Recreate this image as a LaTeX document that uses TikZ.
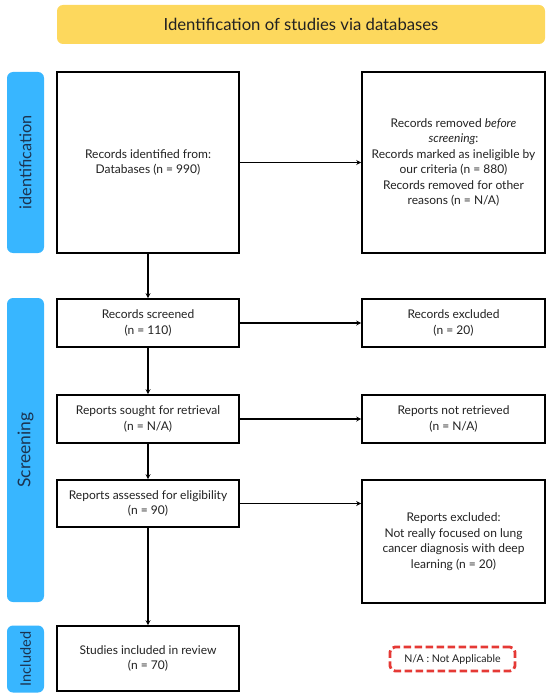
\documentclass[tikz,border=0pt]{standalone}
\usepackage{fontspec}
\setmainfont{Lato}
\usetikzlibrary{arrows.meta}
\definecolor{titleyellow}{HTML}{FDD85D}
\definecolor{sideblue}{HTML}{38B6FF}
\definecolor{natred}{HTML}{E53935}
\definecolor{txt}{HTML}{222222}
\definecolor{sidetxt}{HTML}{1B3350}
\tikzset{
  box/.style={draw=black, line width=1.6pt, fill=white, align=center, text=txt, font=\fontsize{12}{15.5}\selectfont, inner sep=2pt},
  sidebar/.style={fill=sideblue, rounded corners=6pt, minimum width=37pt},
  sidelab/.style={rotate=90, text=sidetxt},
  arr/.style={line width=1.4pt, -{Stealth[length=5pt,width=5pt]}},
}
\begin{document}
\begin{tikzpicture}[x=1pt,y=-1pt]
\useasboundingbox (0,0) rectangle (550,698);
\node[fill=titleyellow, rounded corners=6pt, minimum width=488pt, minimum height=39pt, text=txt, font=\fontsize{16.7}{18}\selectfont] (title) at (301,24.5) {Identification of studies via databases};

\node[sidebar, minimum height=181pt] (idbar) at (25.5,162.5) {};
\node[sidelab, font=\fontsize{16.3}{19}\selectfont] (idlab) at (idbar.center) {identification};
\node[sidebar, minimum height=304pt] (scrbar) at (25.5,450) {};
\node[sidelab, font=\fontsize{17.5}{19}\selectfont] (scrlab) at (scrbar.center) {Screening};
\node[sidebar, minimum height=67pt] (inbar) at (25.5,659) {};
\node[sidelab, font=\fontsize{14.5}{17}\selectfont] (inlab) at (inbar.center) {Included};

\node[box, minimum width=182pt, minimum height=181pt] (ident) at (148,162.5) {Records identified from:\\Databases (n = 990)};
\node[box, minimum width=183pt, minimum height=181pt] (remov) at (453.5,162.5) {Records removed \textit{before}\\\textit{screening}:\\Records marked as ineligible by\\our criteria (n = 880)\\Records removed for other\\reasons (n = N/A)};
\node[box, minimum width=182pt, minimum height=48pt] (scr) at (148,323) {Records screened\\(n = 110)};
\node[box, minimum width=183pt, minimum height=48pt] (exc) at (453.5,323) {Records excluded\\(n = 20)};
\node[box, minimum width=182pt, minimum height=48pt] (sought) at (148,419) {Reports sought for retrieval\\(n = N/A)};
\node[box, minimum width=183pt, minimum height=48pt] (notret) at (453.5,419) {Reports not retrieved\\(n = N/A)};
\node[box, minimum width=182pt, minimum height=47pt] (assess) at (148,503.5) {Reports assessed for eligibility\\(n = 90)};
\node[box, minimum width=183pt, minimum height=123pt] (rexc) at (453.5,541.5) {Reports excluded:\\Not really focused on lung\\cancer diagnosis with deep\\learning (n = 20)};
\node[box, minimum width=182pt, minimum height=65pt] (incl) at (148,658.5) {Studies included in review\\(n = 70)};
\node[draw=natred, line width=2.8pt, dash pattern=on 7.5pt off 3.5pt, rounded corners=5pt, minimum width=125pt, minimum height=24pt, text=txt, font=\fontsize{10.6}{12}\selectfont] (na) at (452.5,659) {N/A : Not Applicable};

\draw[arr] (ident) -- (remov);
\draw[arr] (ident) -- (scr);
\draw[arr] (scr) -- (exc);
\draw[arr] (scr) -- (sought);
\draw[arr] (sought) -- (notret);
\draw[arr] (sought) -- (assess);
\draw[arr] (assess.east) -- (assess.east -| rexc.west);
\draw[arr] (assess) -- (incl);
\end{tikzpicture}
\end{document}
